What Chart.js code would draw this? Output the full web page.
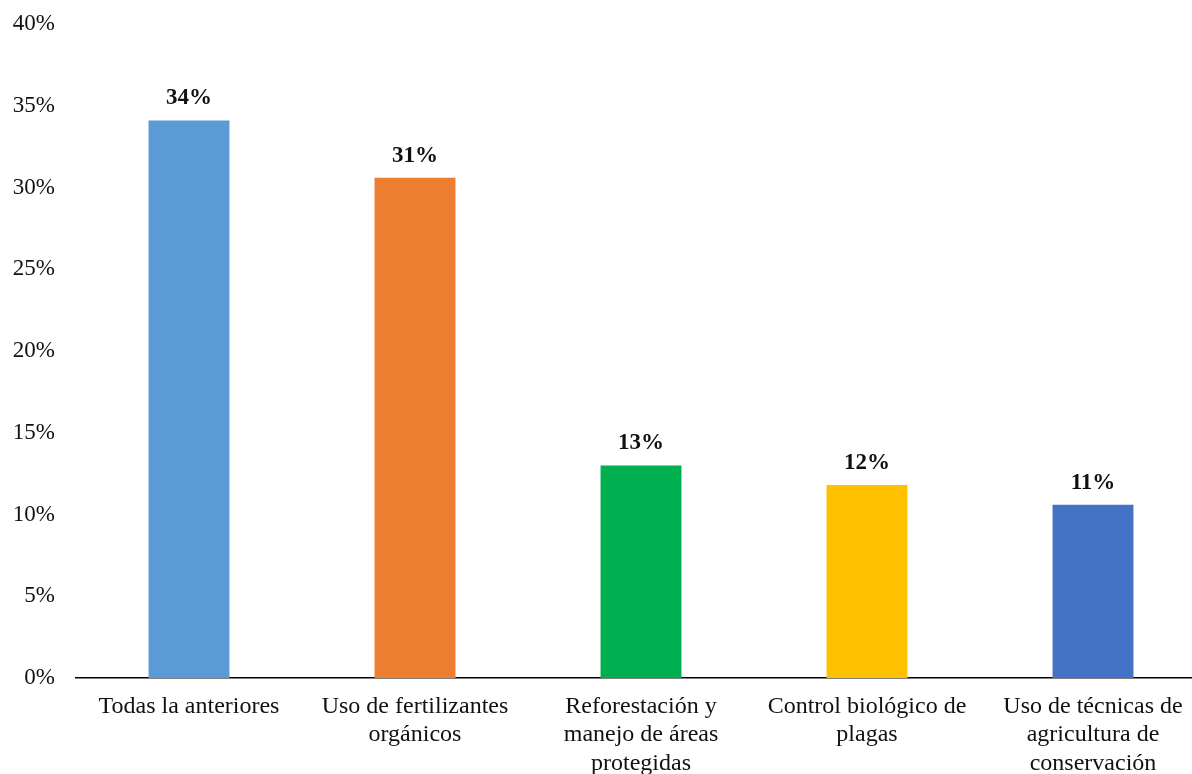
<!DOCTYPE html>
<html lang="es">
<head>
    <meta charset="UTF-8">
    <title>Prácticas</title>
    <script src="https://cdn.jsdelivr.net/npm/chart.js"></script>
    <style>
        html, body {
            margin: 0;
            padding: 0;
            background: #fff;
            overflow: hidden;
        }
        /* plot runs a little past the right edge, like the original */
        #wrap {
            width: 1206px;
            height: 774px;
        }
    </style>
</head>
<body>
    <div id="wrap"><canvas id="chart"></canvas></div>
    <script>
        // data
        const categories = [
            ["Todas la anteriores"],
            ["Uso de fertilizantes", "orgánicos"],
            ["Reforestación y", "manejo de áreas", "protegidas"],
            ["Control biológico de", "plagas"],
            ["Uso de técnicas de", "agricultura de", "conservación"]
        ];
        const values = [34.1, 30.6, 13.0, 11.8, 10.6];
        const barLabels = ["34%", "31%", "13%", "12%", "11%"];
        const barColors = ["#5B9BD5", "#ED7D31", "#00B050", "#FFC000", "#4472C4"];

        const serif = "'Liberation Serif', 'Times New Roman', serif";
        const textColor = "#111";

        // bold value labels above the bars
        const valueLabels = {
            id: "valueLabels",
            afterDatasetsDraw(chart) {
                const ctx = chart.ctx;
                const meta = chart.getDatasetMeta(0);
                ctx.save();
                ctx.font = "bold 23px " + serif;
                ctx.fillStyle = textColor;
                ctx.textAlign = "center";
                ctx.textBaseline = "middle";
                meta.data.forEach((bar, i) => {
                    ctx.fillText(barLabels[i], bar.x, bar.y - 22);
                });
                ctx.restore();
            }
        };

        new Chart(document.getElementById("chart"), {
            type: "bar",
            data: {
                labels: categories,
                datasets: [{
                    data: values,
                    backgroundColor: barColors,
                    borderWidth: 0,
                    categoryPercentage: 1,
                    barPercentage: 0.358
                }]
            },
            options: {
                responsive: true,
                maintainAspectRatio: false,
                animation: false,
                layout: { padding: { top: 24, right: 0, left: 0, bottom: 0 } },
                plugins: {
                    legend: { display: false },
                    tooltip: { enabled: false }
                },
                scales: {
                    x: {
                        grid: { display: false, drawTicks: false },
                        border: { display: true, color: "#000", width: 1.5 },
                        ticks: {
                            color: textColor,
                            padding: 14,
                            maxRotation: 0,
                            autoSkip: false,
                            font: { family: serif, size: 24, lineHeight: 1.2 }
                        },
                        afterFit(scale) {
                            scale.height = 96;
                            scale.paddingLeft = 0;
                            scale.paddingRight = 0;
                        }
                    },
                    y: {
                        min: 0,
                        max: 40,
                        grid: { display: false, drawTicks: false },
                        border: { display: false },
                        ticks: {
                            stepSize: 5,
                            color: textColor,
                            padding: 21,
                            font: { family: serif, size: 23 },
                            callback: (v) => v + "%"
                        },
                        afterFit(scale) {
                            scale.width = 76;
                            scale.paddingTop = 0;
                            scale.paddingBottom = 0;
                        }
                    }
                }
            },
            plugins: [valueLabels]
        });
    </script>
</body>
</html>
